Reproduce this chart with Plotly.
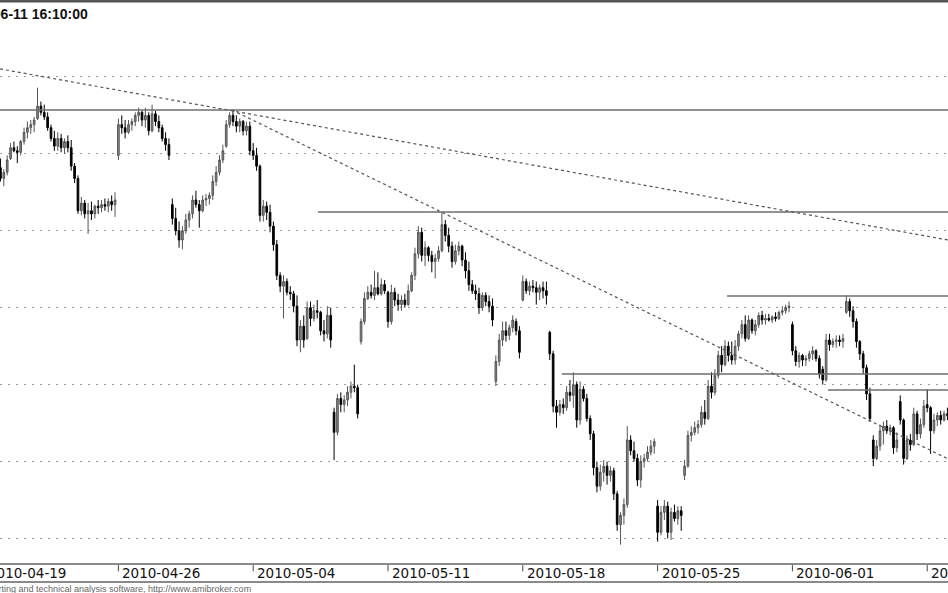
import plotly.graph_objects as go

# hourly bars, slot index (8 bars per trading day, 40 per label step)
bar_start = 5
opens = [
    2541, 2534, 2538,
    2547, 2554, 2552, 2551, 2558, 2564, 2567, 2569,
    2573, 2581, 2577, 2574, 2567, 2560, 2555, 2560,
    2554, 2558, 2554, 2542, 2534, 2513, 2518, 2511,
    2513, 2511, 2516, 2515, 2517, 2516, 2519, 2517,
    2549, 2569, 2567, 2564, 2569, 2571, 2575, 2577,
    2572, 2575, 2565, 2576, 2571, 2567, 2560, 2556,
    2517, 2508, 2500, 2494, 2500, 2507, 2511, 2520,
    2517, 2513, 2520, 2521, 2523, 2532, 2538, 2546,
    2555, 2569, 2575, 2571, 2568, 2571, 2565, 2568,
    2552, 2549, 2542, 2510, 2516, 2512, 2503, 2491,
    2471, 2464, 2467, 2460, 2459, 2451, 2429, 2438,
    2430, 2450, 2443, 2448, 2447, 2435, 2433, 2445,
    2382, 2369, 2391, 2387, 2390, 2395, 2399, 2398,
    2428, 2441, 2456, 2460, 2458, 2463, 2459, 2465,
    2460, 2441, 2460, 2455, 2452, 2455, 2452, 2461,
    2471, 2485, 2499, 2484, 2489, 2484, 2480, 2482,
    2487, 2504, 2497, 2490, 2480, 2487, 2490, 2481,
    2474, 2465, 2461, 2459, 2450, 2458, 2454, 2451,
    2402, 2415, 2429, 2435, 2432, 2437, 2441, 2435,
    2455, 2467, 2461, 2464, 2463, 2460, 2463, 2461,
    2434, 2420, 2386, 2382, 2387, 2385, 2395, 2393,
    2400, 2377, 2397, 2391, 2378, 2368, 2346, 2334,
    2343, 2347, 2341, 2344, 2329, 2309, 2315, 2322,
    2364, 2357, 2352, 2338, 2350, 2352, 2356, 2360,
    2321, 2304, 2317, 2321, 2304, 2317, 2313, 2318,
    2341, 2347, 2367, 2369, 2372, 2374, 2382, 2378,
    2399, 2395, 2406, 2419, 2413, 2425, 2419, 2416,
    2425, 2433, 2439, 2430, 2442, 2435, 2439, 2445,
    2442, 2443, 2442, 2444, 2443, 2447, 2448, 2450,
    2439, 2422, 2415, 2419, 2416, 2417, 2420, 2422,
    2417, 2410, 2403, 2429, 2426, 2428, 2429, 2428,
    2447, 2454, 2448, 2441, 2428, 2420, 2411, 2394,
    2364, 2352, 2360, 2370, 2373, 2370, 2372, 2359,
    2389, 2377, 2352, 2364, 2361, 2381, 2368, 2374,
    2387, 2385, 2370, 2377, 2380, 2377, 2381,
]
highs = [
    2547, 2540, 2549,
    2557, 2558, 2555, 2559, 2567, 2571, 2572, 2574,
    2593, 2584, 2582, 2577, 2569, 2565, 2564, 2563,
    2560, 2562, 2559, 2544, 2536, 2522, 2520, 2518,
    2519, 2517, 2520, 2520, 2521, 2521, 2523, 2525,
    2573, 2575, 2572, 2572, 2573, 2577, 2580, 2578,
    2580, 2577, 2582, 2578, 2575, 2569, 2564, 2560,
    2521, 2515, 2506, 2503, 2511, 2513, 2523, 2526,
    2520, 2523, 2524, 2525, 2536, 2542, 2549, 2556,
    2572, 2577, 2578, 2575, 2573, 2572, 2571, 2571,
    2557, 2554, 2543, 2520, 2519, 2517, 2506, 2494,
    2473, 2471, 2469, 2464, 2461, 2458, 2442, 2445,
    2454, 2454, 2452, 2455, 2448, 2442, 2451, 2450,
    2385, 2394, 2395, 2393, 2399, 2402, 2413, 2400,
    2443, 2460, 2464, 2465, 2474, 2473, 2469, 2468,
    2461, 2465, 2463, 2459, 2458, 2459, 2465, 2473,
    2489, 2503, 2502, 2493, 2490, 2487, 2485, 2490,
    2512, 2507, 2502, 2493, 2491, 2493, 2491, 2486,
    2480, 2468, 2465, 2463, 2460, 2460, 2458, 2456,
    2419, 2433, 2441, 2441, 2439, 2445, 2443, 2438,
    2471, 2469, 2467, 2468, 2467, 2465, 2467, 2467,
    2435, 2422, 2390, 2390, 2391, 2399, 2403, 2408,
    2402, 2402, 2399, 2394, 2380, 2370, 2350, 2348,
    2351, 2350, 2347, 2346, 2331, 2317, 2326, 2373,
    2367, 2363, 2355, 2354, 2355, 2360, 2364, 2365,
    2325, 2321, 2325, 2324, 2320, 2322, 2321, 2321,
    2351, 2370, 2373, 2376, 2377, 2386, 2390, 2403,
    2408, 2410, 2422, 2425, 2429, 2428, 2428, 2429,
    2435, 2442, 2445, 2445, 2443, 2442, 2447, 2448,
    2446, 2446, 2445, 2447, 2448, 2451, 2452, 2454,
    2441, 2425, 2421, 2420, 2419, 2422, 2425, 2423,
    2419, 2412, 2433, 2433, 2430, 2432, 2432, 2433,
    2458, 2456, 2451, 2443, 2429, 2422, 2413, 2398,
    2367, 2364, 2374, 2376, 2377, 2374, 2373, 2369,
    2393, 2378, 2367, 2368, 2385, 2383, 2378, 2390,
    2397, 2386, 2381, 2382, 2383, 2383, 2385,
]
lows = [
    2532, 2529, 2536,
    2546, 2551, 2544, 2549, 2556, 2560, 2563, 2564,
    2572, 2575, 2572, 2565, 2558, 2552, 2552, 2551,
    2550, 2551, 2539, 2531, 2511, 2510, 2508, 2498,
    2507, 2508, 2511, 2512, 2513, 2512, 2513, 2509,
    2546, 2563, 2560, 2563, 2565, 2568, 2571, 2568,
    2567, 2562, 2564, 2568, 2564, 2558, 2552, 2546,
    2504, 2497, 2489, 2488, 2498, 2502, 2508, 2515,
    2502, 2512, 2516, 2517, 2520, 2529, 2536, 2544,
    2554, 2567, 2568, 2564, 2564, 2562, 2562, 2549,
    2546, 2539, 2506, 2506, 2507, 2499, 2487, 2468,
    2460, 2443, 2458, 2455, 2447, 2425, 2421, 2424,
    2429, 2438, 2441, 2443, 2432, 2428, 2430, 2424,
    2351, 2367, 2382, 2382, 2386, 2391, 2395, 2378,
    2426, 2439, 2455, 2456, 2455, 2458, 2458, 2459,
    2437, 2439, 2451, 2448, 2448, 2450, 2451, 2460,
    2468, 2482, 2480, 2477, 2480, 2473, 2469, 2480,
    2486, 2493, 2486, 2476, 2478, 2484, 2477, 2469,
    2461, 2459, 2455, 2446, 2448, 2451, 2447, 2438,
    2399, 2412, 2425, 2428, 2429, 2434, 2432, 2417,
    2454, 2459, 2458, 2460, 2452, 2455, 2456, 2452,
    2416, 2382, 2372, 2380, 2381, 2383, 2389, 2385,
    2372, 2374, 2389, 2376, 2364, 2341, 2330, 2331,
    2337, 2335, 2337, 2325, 2305, 2296, 2309, 2320,
    2354, 2350, 2334, 2333, 2346, 2350, 2354, 2355,
    2298, 2302, 2312, 2300, 2299, 2311, 2309, 2305,
    2338, 2346, 2363, 2367, 2368, 2372, 2374, 2377,
    2391, 2393, 2404, 2408, 2412, 2415, 2413, 2413,
    2422, 2430, 2428, 2429, 2433, 2432, 2437, 2439,
    2439, 2441, 2440, 2441, 2442, 2445, 2446, 2447,
    2419, 2412, 2411, 2412, 2412, 2415, 2416, 2415,
    2404, 2400, 2402, 2422, 2424, 2424, 2425, 2424,
    2446, 2444, 2437, 2424, 2416, 2407, 2390, 2376,
    2347, 2351, 2357, 2361, 2368, 2367, 2355, 2356,
    2374, 2348, 2351, 2357, 2360, 2364, 2365, 2372,
    2382, 2355, 2368, 2373, 2374, 2376, 2377,
]
closes = [
    2534, 2538, 2546,
    2554, 2552, 2551, 2558, 2564, 2567, 2569, 2572,
    2581, 2577, 2574, 2567, 2560, 2555, 2560, 2554,
    2558, 2554, 2542, 2534, 2513, 2518, 2511, 2513,
    2511, 2516, 2515, 2517, 2516, 2519, 2517, 2520,
    2569, 2567, 2564, 2569, 2571, 2575, 2577, 2572,
    2575, 2565, 2576, 2571, 2567, 2560, 2556, 2549,
    2508, 2500, 2494, 2500, 2507, 2511, 2520, 2517,
    2513, 2520, 2521, 2523, 2532, 2538, 2546, 2552,
    2569, 2575, 2571, 2568, 2571, 2565, 2568, 2552,
    2549, 2542, 2510, 2516, 2512, 2503, 2491, 2471,
    2464, 2467, 2460, 2459, 2451, 2429, 2438, 2429,
    2450, 2443, 2448, 2447, 2435, 2433, 2445, 2429,
    2369, 2391, 2387, 2390, 2395, 2399, 2398, 2381,
    2441, 2456, 2460, 2458, 2463, 2459, 2465, 2461,
    2441, 2460, 2455, 2452, 2455, 2452, 2461, 2471,
    2485, 2499, 2484, 2489, 2484, 2480, 2482, 2487,
    2504, 2497, 2490, 2480, 2487, 2490, 2481, 2474,
    2465, 2461, 2459, 2450, 2458, 2454, 2451, 2442,
    2415, 2429, 2435, 2432, 2437, 2442, 2435, 2421,
    2467, 2461, 2464, 2463, 2460, 2463, 2461, 2458,
    2420, 2386, 2382, 2387, 2385, 2395, 2393, 2400,
    2377, 2397, 2391, 2378, 2368, 2346, 2334, 2343,
    2347, 2341, 2344, 2329, 2309, 2315, 2322, 2364,
    2357, 2352, 2338, 2350, 2352, 2356, 2360, 2363,
    2304, 2317, 2321, 2304, 2317, 2313, 2318, 2315,
    2347, 2367, 2369, 2372, 2374, 2382, 2378, 2399,
    2395, 2406, 2419, 2413, 2425, 2419, 2416, 2425,
    2433, 2439, 2430, 2442, 2435, 2439, 2445, 2442,
    2443, 2442, 2444, 2443, 2447, 2448, 2450, 2451,
    2422, 2415, 2419, 2416, 2417, 2420, 2422, 2417,
    2407, 2403, 2429, 2426, 2428, 2429, 2428, 2430,
    2454, 2448, 2441, 2428, 2420, 2411, 2394, 2378,
    2352, 2360, 2370, 2373, 2370, 2372, 2359, 2364,
    2377, 2352, 2364, 2361, 2381, 2368, 2374, 2386,
    2385, 2370, 2377, 2380, 2377, 2381, 2380,
]
bars = list(range(bar_start, bar_start + len(opens)))

# x-axis labels every 40 bars (5 trading days)
label_bars = [0, 40, 80, 120, 160, 200, 240, 280]
label_texts = ["2010-04-19", "2010-04-26", "2010-05-04", "2010-05-11",
               "2010-05-18", "2010-05-25", "2010-06-01", "2010-06-09"]

# drawn studies: horizontal support/resistance levels
level_prices = [2578.5, 2512.2, 2457.6, 2406.9, 2396.5]
level_starts = [0, 99.2, 220.6, 171.6, 250.6]
# dotted trend lines (start bar, start price, end bar, end price)
trend_x0 = [4.87, 73.7]
trend_y0 = [2605.2, 2578.5]
trend_x1 = [286.2, 286.2]
trend_y1 = [2494.0, 2351.7]

X_RANGE = [4.866, 286.17]
Y_RANGE = [2283.4, 2648.7]
W, H = 948, 593
PLOT_H = H - 2 - 29


def bar_to_paper(b):
    return (b - X_RANGE[0]) / (X_RANGE[1] - X_RANGE[0])


fig = go.Figure()
fig.add_trace(go.Candlestick(
    x=bars, open=opens, high=highs, low=lows, close=closes,
    increasing=dict(line=dict(color="#555555", width=1), fillcolor="#8c8c8c"),
    decreasing=dict(line=dict(color="#000000", width=1), fillcolor="#000000"),
    whiskerwidth=0, hoverinfo="skip", showlegend=False,
))

shapes = []
for p, s in zip(level_prices, level_starts):
    shapes.append(dict(type="line", xref="x", yref="y", x0=s, x1=295, y0=p, y1=p,
                       line=dict(color="#6e6e6e", width=1.5), layer="above"))
for a, b, c, d in zip(trend_x0, trend_y0, trend_x1, trend_y1):
    shapes.append(dict(type="line", xref="x", yref="y", x0=a, y0=b, x1=c, y1=d,
                       line=dict(color="#555555", width=1.2, dash="3px,3px"), layer="above"))
# tick marks
for b in label_bars:
    shapes.append(dict(type="line", xref="paper", yref="paper",
                       x0=bar_to_paper(b), x1=bar_to_paper(b), y0=-0.002, y1=-0.013,
                       line=dict(color="#444444", width=1)))
# frame lines
shapes.append(dict(type="line", xref="paper", yref="paper", x0=0, x1=1, y0=1.002, y1=1.002,
                   line=dict(color="#555555", width=3)))
shapes.append(dict(type="line", xref="paper", yref="paper", x0=0, x1=1, y0=0, y1=0,
                   line=dict(color="#8a8a8a", width=2)))
shapes.append(dict(type="line", xref="paper", yref="paper", x0=0, x1=1, y0=-18 / PLOT_H, y1=-18 / PLOT_H,
                   line=dict(color="#8a8a8a", width=2)))

annotations = []
for b, t in zip(label_bars, label_texts):
    annotations.append(dict(xref="paper", yref="paper", x=bar_to_paper(b), y=-9 / PLOT_H, text=t,
                            showarrow=False, xanchor="left", yanchor="middle", xshift=2,
                            font=dict(family="DejaVu Sans", size=13.5, color="#111111")))
annotations.append(dict(xref="paper", yref="paper", x=90 / W, y=1 - 12 / PLOT_H,
                        text="<b>2010-06-11 16:10:00</b>", showarrow=False,
                        xanchor="right", yanchor="middle",
                        font=dict(family="Liberation Sans, Arial", size=14, color="#111111")))
annotations.append(dict(xref="paper", yref="paper", x=253 / W, y=-25 / PLOT_H,
                        text="AmiBroker - charting and technical analysis software, http://www.amibroker.com",
                        showarrow=False, xanchor="right", yanchor="middle",
                        font=dict(family="Liberation Sans, Arial", size=9, color="#666666")))

fig.update_layout(
    width=W, height=H,
    margin=dict(l=0, r=0, t=2, b=29),
    paper_bgcolor="white", plot_bgcolor="white",
    shapes=shapes, annotations=annotations,
    boxgap=0.3,
    xaxis=dict(range=X_RANGE, showgrid=False, zeroline=False, showticklabels=False,
               showline=False, ticks="", rangeslider=dict(visible=False), fixedrange=True),
    yaxis=dict(range=Y_RANGE, showgrid=True, gridcolor="#9a9a9a", gridwidth=1,
               griddash="2px,6px", tick0=2300, dtick=50, zeroline=False,
               showticklabels=False, showline=False, ticks="", fixedrange=True),
)

fig.write_html("out.html", config={"displayModeBar": False},
               post_script="document.body.style.margin='0';document.body.style.overflow='hidden';")
